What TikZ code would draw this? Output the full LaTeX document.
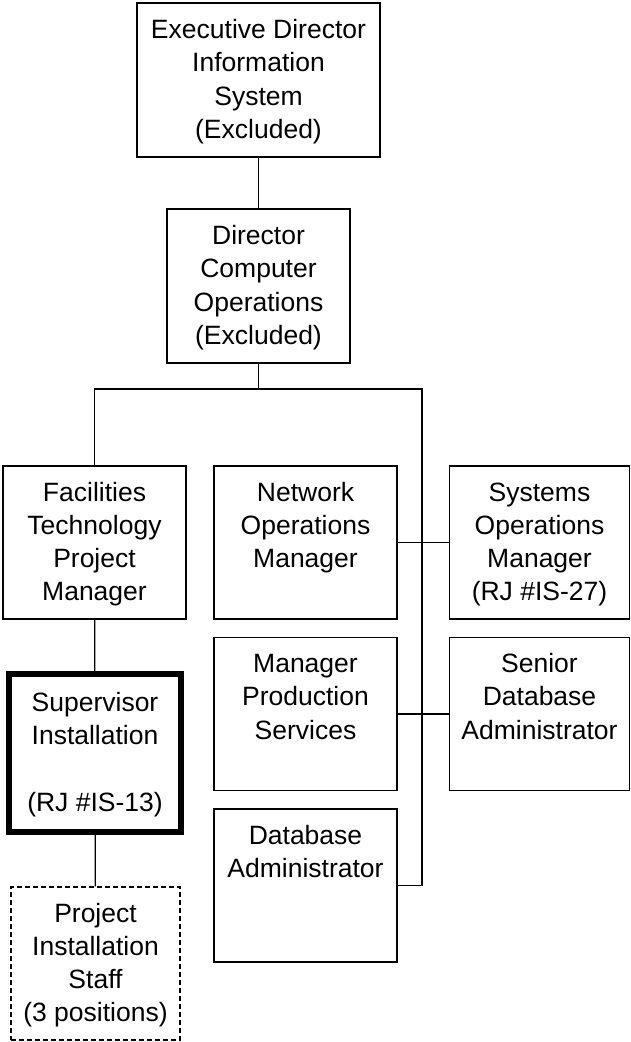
\documentclass[tikz,border=0pt]{standalone}
\usepackage{fontspec}
\setmainfont{Liberation Sans}
\newcommand\topstrut{\rule{0pt}{27pt}}

\begin{document}
\begin{tikzpicture}[x=1pt, y=-1pt,
	post/.style={draw, line width=1.3pt, align=center, inner sep=0pt, font=\fontsize{26.5}{33.3}\selectfont},
	wide/.style={post, minimum width=183pt, minimum height=153pt},
	lead/.style={wide, line width=6pt, minimum width=172pt, minimum height=158pt},
	staff/.style={wide, dash pattern=on 5pt off 3pt, minimum width=169pt}]
	\useasboundingbox (0,0) rectangle (631,1042);
	\node[post, minimum width=243pt, minimum height=154pt] (exec) at (258.5,80) {\topstrut Executive Director\\Information\\System\\(Excluded)\strut};
	\node[wide, minimum height=154pt] (dir) at (258.5,286) {\topstrut Director\\Computer\\Operations\\(Excluded)\strut};
	\node[wide] (fac) at (94.5,542.5) {\topstrut Facilities\\Technology\\Project\\Manager\strut};
	\node[wide] (net) at (305.5,542.5) {\topstrut Network\\Operations\\Manager\\\strut};
	\node[wide, minimum width=180pt] (sys) at (539.5,542.5) {\topstrut Systems\\Operations\\Manager\\(RJ \#IS-27)\strut};
	\node[wide] (mps) at (305.5,714) {\topstrut Manager\\Production\\Services\\\strut};
	\node[wide, minimum width=180pt] (sdb) at (539.5,714) {\topstrut Senior\\Database\\Administrator\\\strut};
	\node[wide] (dba) at (305.5,885.5) {\topstrut Database\\Administrator\\\strut\\\strut};
	\node[lead] (sup) at (95,753) {\topstrut Supervisor\\Installation\\\strut\\(RJ \#IS-13)\strut};
	\node[staff] (crew) at (95.5,963.5) {\topstrut Project\\Installation\\Staff\\(3 positions)\strut};
	% reporting lines
	\coordinate (split) at (258.5,389);
	\coordinate (spine) at (422,389);
	\draw[line width=1.3pt] (exec) -- (dir);
	\draw[line width=1.3pt] (dir) -- (split);
	\draw[line width=1.3pt] (fac.north) |- (spine) -- (spine |- dba.east) -- (dba.east);
	\draw[line width=1.3pt] (net) -- (sys);
	\draw[line width=1.3pt] (mps) -- (sdb);
	\draw[line width=1.3pt] (fac) -- (sup);
	\draw[line width=1.3pt] (sup) -- (crew);
\end{tikzpicture}
\end{document}
